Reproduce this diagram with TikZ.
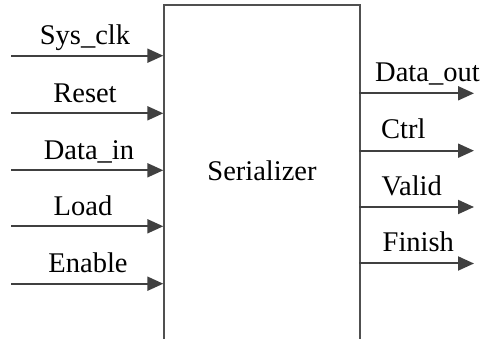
\documentclass[tikz,border=0pt]{standalone}
\usepackage{fontspec}
\setmainfont{Liberation Serif}
\usetikzlibrary{arrows.meta}
\definecolor{lineg}{HTML}{404040}
\definecolor{boxg}{HTML}{505050}
\tikzset{
  sig/.style={draw=lineg, line width=2pt, -{Triangle[length=16pt,width=14pt]}, color=lineg},
  lbl/.style={inner sep=0pt, anchor=base, font=\fontsize{28.5}{34}\selectfont},
  blk/.style={draw=boxg, line width=1.8pt}
}
\begin{document}
\begin{tikzpicture}[x=1pt,y=-1pt]
\useasboundingbox (0,0) rectangle (483,339);
\clip (0,0) rectangle (483,339);
\fill[white] (0,0) rectangle (483,339);
\node[blk, minimum width=196pt, minimum height=338pt, inner sep=0pt, anchor=north west] (box) at (163.3,4) {};
\node[lbl] (title) at (262,180.7) {Serializer};
% inputs
\coordinate (i1) at (11,55.7);
\coordinate (i2) at (11,113.3);
\coordinate (i3) at (11,170.3);
\coordinate (i4) at (11,226.3);
\coordinate (i5) at (11,283.7);
\coordinate (b1) at (163.3,55.7);
\coordinate (b2) at (163.3,113.3);
\coordinate (b3) at (163.3,170.3);
\coordinate (b4) at (163.3,226.3);
\coordinate (b5) at (163.3,283.7);
\draw[sig] (i1) -- (b1);
\draw[sig] (i2) -- (b2);
\draw[sig] (i3) -- (b3);
\draw[sig] (i4) -- (b4);
\draw[sig] (i5) -- (b5);
\node[lbl] (l1) at (85,45) {Sys\_clk};
\node[lbl] (l2) at (85,102.5) {Reset};
\node[lbl] (l3) at (89,159.5) {Data\_in};
\node[lbl] (l4) at (83,215.5) {Load};
\node[lbl] (l5) at (88,273) {Enable};
% outputs
\coordinate (o1) at (359.3,93.3);
\coordinate (o2) at (359.3,150.7);
\coordinate (o3) at (359.3,207);
\coordinate (o4) at (359.3,263.5);
\coordinate (e1) at (474,93.3);
\coordinate (e2) at (474,150.7);
\coordinate (e3) at (474,207);
\coordinate (e4) at (474,263.5);
\draw[sig] (o1) -- (e1);
\draw[sig] (o2) -- (e2);
\draw[sig] (o3) -- (e3);
\draw[sig] (o4) -- (e4);
\node[lbl, anchor=base west] (r1) at (375,82) {Data\_out};
\node[lbl, anchor=base west] (r2) at (381,139) {Ctrl};
\node[lbl, anchor=base west] (r3) at (381.5,195.5) {Valid};
\node[lbl, anchor=base west] (r4) at (382.5,251.5) {Finish};
\end{tikzpicture}
\end{document}
